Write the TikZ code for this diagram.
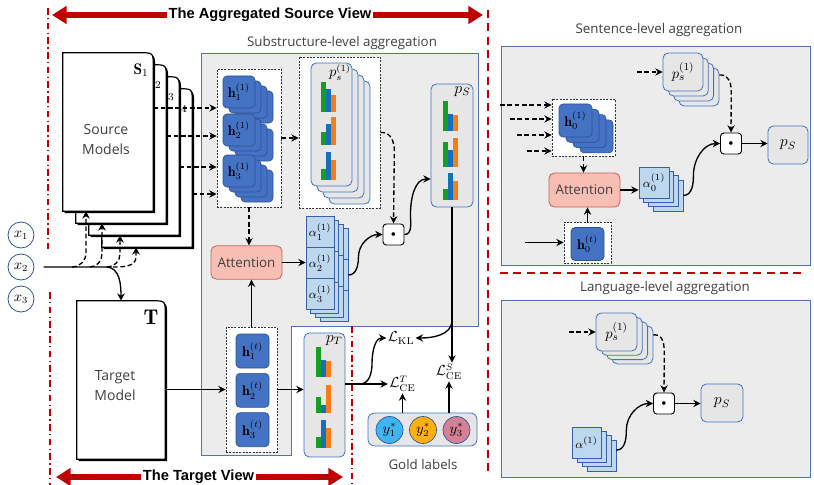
\documentclass[tikz,border=0pt]{standalone}
\usepackage{amsmath}
\usepackage{amssymb}
\usepackage{fontspec}
\setsansfont{Open Sans}
\newfontfamily\viewfont{Liberation Sans}
\usetikzlibrary{arrows.meta,positioning}

\definecolor{hblue}{RGB}{68,114,196}
\definecolor{hborder}{RGB}{47,82,143}
\definecolor{alight}{RGB}{189,215,238}
\definecolor{aborder}{RGB}{56,96,170}
\definecolor{panelgray}{RGB}{236,236,236}
\definecolor{panelline}{RGB}{80,115,180}
\definecolor{pgray}{RGB}{230,230,230}
\definecolor{attfill}{RGB}{248,190,180}
\definecolor{attline}{RGB}{196,98,88}
\definecolor{viewred}{RGB}{192,0,0}
\definecolor{bargreen}{RGB}{20,160,30}
\definecolor{barblue}{RGB}{20,112,190}
\definecolor{barorange}{RGB}{250,125,20}
\definecolor{ystarA}{RGB}{64,180,240}
\definecolor{ystarB}{RGB}{255,176,10}
\definecolor{ystarC}{RGB}{212,128,150}
\definecolor{labelgray}{RGB}{64,64,64}
\definecolor{xborder}{RGB}{47,85,151}

\newcommand{\dotmark}{{\fontsize{6}{6}\selectfont$\bullet$}}
% a stack: name, style, x, y, dx, dy, label
\newcommand{\stack}[7]{%
  \foreach \k in {3,2,1}
    \node[#2] (#1-\k) at ({#3+\k*#5},{#4+\k*#6}) {};
  \node[#2] (#1) at (#3,#4) {#7};
}
% three bars: x, bottom, green, blue, orange
\newcommand{\bars}[5]{%
  \fill[bargreen] (#1,#2) rectangle ++(5,-#3);
  \fill[barblue] ({#1+5},#2) rectangle ++(5,-#4);
  \fill[barorange] ({#1+10},#2) rectangle ++(5,-#5);
}
% model card drawn round an empty node
\newcommand{\card}[1]{%
  \fill[black, transform canvas={shift={(1.4pt,-1.4pt)}}]
    (#1.south west) -- (#1.north west) -- ([xshift=-10pt]#1.north east)
    .. controls (#1.north east) .. ([yshift=-10pt]#1.north east) -- (#1.south east) -- cycle;
  \filldraw[fill=white, draw=black, line width=0.9pt]
    (#1.south west) -- (#1.north west) -- ([xshift=-10pt]#1.north east)
    .. controls (#1.north east) .. ([yshift=-10pt]#1.north east) -- (#1.south east) -- cycle;
}

\begin{document}
\begin{tikzpicture}[
    x=0.75pt, y=-0.75pt,
    font=\fontsize{10.5}{12}\selectfont,
    >={Stealth[length=5.5pt,width=5.5pt,inset=1.8pt]},
    arr/.style={->, line width=1pt},
    darr/.style={->, line width=1pt, dash pattern=on 3.5pt off 2pt},
    sanslabel/.style={font=\sffamily\fontsize{10}{12}\selectfont, text=labelgray},
    panel/.style={draw=panelline, fill=panelgray, line width=0.7pt, inner sep=0pt},
    holder/.style={draw=black!80, fill=white, line width=0.5pt, dash pattern=on 1.5pt off 1pt, inner sep=0pt},
    hnode/.style={draw=hborder, fill=hblue, rounded corners=3pt, line width=0.5pt, minimum size=24pt, inner sep=0pt},
    pnode/.style={draw=hblue, fill=pgray, rounded corners=4pt, line width=0.6pt, inner sep=0pt, font=\fontsize{11}{13}\selectfont},
    acell/.style={draw=aborder, fill=alight, line width=0.5pt, minimum width=21pt, minimum height=23.25pt, inner sep=0pt, font=\fontsize{9.5}{11}\selectfont},
    attn/.style={draw=attline, fill=attfill, rounded corners=4pt, line width=0.6pt, minimum width=53.25pt, minimum height=25pt, font=\sffamily\fontsize{10}{12}\selectfont, text=labelgray},
    dotnode/.style={draw, fill=white, rounded corners=2.5pt, line width=0.7pt, minimum size=15.75pt, inner sep=0pt},
    cardbox/.style={inner sep=0pt, minimum width=67.5pt, minimum height=118.5pt},
    xin/.style={circle, draw=xborder, fill=white, line width=0.6pt, minimum size=19.5pt, inner sep=0pt},
    ystar/.style={circle, draw=xborder, line width=0.5pt, minimum size=20.25pt, inner sep=0pt},
    loss/.style={inner sep=1pt},
    viewsep/.style={viewred, line width=1.8pt, dash pattern=on 6pt off 4pt},
    viewedge/.style={viewred, line width=1.3pt, dash pattern=on 5pt off 2.5pt on 1pt off 2.5pt},
    viewarrow/.style={viewred, line width=4.5pt, -{Triangle[length=11pt,width=13pt]}},
    viewtitle/.style={font=\viewfont\bfseries\fontsize{11}{13}\selectfont, inner sep=1pt}]
    \useasboundingbox (0,0) rectangle (814,485);

    % PANELS
    \filldraw[panel] (201,53) -- (478,53) -- (478,326) -- (291,326) -- (291,455) -- (201,455) -- cycle;
    \node[sanslabel] (subtitle) at (342,43) {Substructure-level aggregation};
    \node[panel, minimum width=231.75pt, minimum height=164.25pt] (sentpanel) at (655.5,155.5) {};
    \node[sanslabel] (senttitle) at (659,30) {Sentence-level aggregation};
    \node[panel, minimum width=231.75pt, minimum height=132.75pt] (langpanel) at (655.5,388.5) {};
    \node[sanslabel] (langtitle) at (665,288) {Language-level aggregation};

    % VIEWS
    \draw[viewedge] (48,8) -- (48,252);
    \draw[viewedge] (50,292) -- (50,485);
    \draw[viewedge] (352,326) -- (352,485);
    \draw[viewsep] (488,10) -- (488,472);
    \draw[viewsep] (500,273) -- (806,273);
    \node[viewtitle] (srcview) at (270,15) {The Aggregated Source View};
    \coordinate (srcviewL) at (52,15);
    \coordinate (srcviewR) at (483,15);
    \draw[viewarrow] (srcview.west) -- (srcviewL);
    \draw[viewarrow] (srcview.east) -- (srcviewR);
    \node[viewtitle] (tgtview) at (198.5,477) {The Target View};
    \coordinate (tgtviewL) at (56,477);
    \coordinate (tgtviewR) at (343,477);
    \draw[viewarrow] (tgtview.west) -- (tgtviewL);
    \draw[viewarrow] (tgtview.east) -- (tgtviewR);

    % SOURCE AND TARGET MODELS
    \node[cardbox] (S4) at (147,168) {};
    \card{S4}
    \node[font=\fontsize{11.5}{13}\selectfont] (S4lab) at (180,106) {$\mathbf{S}_4$};
    \node[cardbox] (S3) at (134,156) {};
    \card{S3}
    \node[font=\fontsize{11.5}{13}\selectfont] (S3lab) at (167,94) {$\mathbf{S}_3$};
    \node[cardbox] (S2) at (121,144) {};
    \card{S2}
    \node[font=\fontsize{11.5}{13}\selectfont] (S2lab) at (154,82) {$\mathbf{S}_2$};
    \node[cardbox] (S1) at (108,132) {};
    \card{S1}
    \node[font=\fontsize{11.5}{13}\selectfont] (S1lab) at (141,70) {$\mathbf{S}_1$};
    \node[sanslabel, align=center, font=\sffamily\fontsize{10.5}{15}\selectfont] (srcname) at (106,139) {Source\\Models};

    \node[cardbox, minimum width=66pt] (T) at (121,380) {};
    \card{T}
    \node[font=\fontsize{16}{18}\selectfont] (Tlab) at (151,317) {$\mathbf{T}$};
    \node[sanslabel, align=center, font=\sffamily\fontsize{10.5}{15}\selectfont] (tgtname) at (115,386) {Target\\Model};

    % INPUTS
    \node[xin] (x1) at (21,235) {$x_1$};
    \node[xin, below of=x1, node distance=24pt] (x2) {$x_2$};
    \node[xin, below of=x2, node distance=24pt] (x3) {$x_3$};
    \coordinate (x2bend) at (106,267);
    \draw[arr] ([xshift=7pt]x2.east) -- (x2bend) to[out=0,in=90] (T.north);
    \coordinate (b1) at (72,267);  \coordinate (k1) at (86,253);
    \coordinate (b2) at (90,267);  \coordinate (k2) at (102,254);
    \coordinate (b3) at (107,267); \coordinate (k3) at (120,254);
    \coordinate (b4) at (113,267); \coordinate (k4) at (136,257);
    \draw[darr] (b1) to[out=0,in=-90] (k1) -- (k1 |- S1.south);
    \draw[darr] (b2) to[out=0,in=-90] (k2) -- (k2 |- S2.south);
    \draw[darr] (b3) to[out=0,in=-90] (k3) -- (k3 |- S3.south);
    \draw[darr] (b4) to[out=0,in=-90] (k4) -- (k4 |- S4.south);

    % SUBSTRUCTURE-LEVEL
    \node[holder, minimum width=48pt, minimum height=103.5pt] (hsrc) at (249,138) {};
    \stack{h1}{hnode}{239}{92}{6}{5}{$\mathbf{h}_1^{(1)}$}
    \stack{h2}{hnode}{239}{130}{6}{5}{$\mathbf{h}_2^{(1)}$}
    \stack{h3}{hnode}{239}{171}{6}{5}{$\mathbf{h}_3^{(1)}$}

    \node[holder, minimum width=60.75pt, minimum height=113.25pt] (psrc) at (339.5,132.5) {};
    \stack{ps}{pnode, minimum width=30.75pt, minimum height=92.25pt}{331.5}{124.5}{6}{6}{}
    \node[anchor=north east, inner sep=1pt] (pslab) at (ps.north east) {$p_s^{(1)}$};
    \bars{321}{112}{30}{23}{17}
    \bars{321}{145}{13}{21}{28}
    \bars{321}{180}{11}{28}{20}

    \node[pnode, minimum width=31.5pt, minimum height=92.25pt] (pS) at (452,145.5) {};
    \node[anchor=north east, inner sep=2pt, font=\fontsize{12}{14}\selectfont] (pSlab) at (pS.north east) {$p_S$};
    \bars{443}{131}{30}{17}{16}
    \bars{443}{167}{25}{17}{29}
    \bars{443}{200}{11}{27}{19}

    \node[attn] (att) at (246.5,262.5) {Attention};
    \foreach \k in {3,2,1}
      \foreach \r in {1,2,3}
        \node[acell] (a\r-\k) at ({320+4.7*\k},{232+31*(\r-1)+4*\k}) {};
    \foreach \r in {1,2,3}
      \node[acell] (a\r) at (320,{232+31*(\r-1)}) {$\alpha_{\r}^{(1)}$};
    \node[dotnode] (dot1) at (393.5,234.5) {\dotmark};

    \node[holder, minimum width=38.25pt, minimum height=93.75pt] (htgt) at (251.5,389.5) {};
    \node[hnode, minimum width=24.75pt, minimum height=25.5pt] (ht1) at (252.5,351) {$\mathbf{h}_1^{(t)}$};
    \node[hnode, minimum width=24.75pt, minimum height=25.5pt, below of=ht1, node distance=29.5pt] (ht2) {$\mathbf{h}_2^{(t)}$};
    \node[hnode, minimum width=24.75pt, minimum height=25.5pt, below of=ht2, node distance=29.5pt] (ht3) {$\mathbf{h}_3^{(t)}$};

    \node[pnode, minimum width=30.75pt, minimum height=93pt] (pT) at (324.5,395) {};
    \node[anchor=north east, inner sep=2pt, font=\fontsize{12}{14}\selectfont] (pTlab) at (pT.north east) {$p_T$};
    \bars{316}{377}{30}{17}{16}
    \bars{316}{413}{16}{8}{28}
    \bars{316}{448}{11}{28}{20}

    % LOSSES AND GOLD LABELS
    \node[loss] (LKL) at (401,338) {$\mathcal{L}_{\mathrm{KL}}$};
    \node[loss] (LCET) at (402.5,384) {$\mathcal{L}_{\mathrm{CE}}^{T}$};
    \node[loss] (LCES) at (449,372) {$\mathcal{L}_{\mathrm{CE}}^{S}$};
    \node[pnode, minimum width=81.75pt, minimum height=24.75pt, rounded corners=5pt] (gold) at (422.5,429.5) {};
    \node[ystar, fill=ystarA] (y1) at (389.5,430) {$y_1^*$};
    \node[ystar, fill=ystarB] (y2) at (423,430) {$y_2^*$};
    \node[ystar, fill=ystarC] (y3) at (456.5,430) {$y_3^*$};
    \node[sanslabel] (goldname) at (423,464) {Gold labels};

    % SENTENCE-LEVEL
    \node[holder, minimum width=47.25pt, minimum height=42.75pt] (h0hold) at (583.5,127.5) {};
    \stack{h0}{hnode, minimum size=24.75pt}{575.5}{120.5}{7}{5.3}{$\mathbf{h}_0^{(1)}$}
    \stack{ps2}{pnode, minimum width=30pt, minimum height=28.5pt}{683}{72}{5.3}{5}{$p_s^{(1)}$}
    \node[attn, minimum height=25.5pt] (att2) at (584.5,190) {Attention};
    \stack{al0}{acell, minimum width=22.5pt}{654}{182.5}{4.7}{4.3}{$\alpha_0^{(1)}$}
    \node[dotnode] (dot2) at (731,143.5) {\dotmark};
    \node[pnode, minimum width=30pt, minimum height=28.5pt, font=\fontsize{12}{14}\selectfont] (pS2) at (788,145) {$p_S$};
    \node[holder, minimum width=35.25pt, minimum height=30.75pt] (h0thold) at (587.5,242.5) {};
    \node[hnode, minimum size=24.75pt] (h0t) at (587.5,244) {$\mathbf{h}_0^{(t)}$};

    % LANGUAGE-LEVEL
    \stack{ps3}{pnode, minimum width=30.75pt, minimum height=28.5pt}{616.5}{332}{5.3}{4.3}{$p_s^{(1)}$}
    \node[dotnode] (dot3) at (664,403.5) {\dotmark};
    \node[pnode, minimum width=31.5pt, minimum height=28.5pt, font=\fontsize{12}{14}\selectfont] (pS3) at (722,403) {$p_S$};
    \stack{al1}{acell, minimum width=21.75pt}{586.5}{442.5}{5}{4.3}{$\alpha^{(1)}$}

    % ARROWS
    \foreach \y [count=\i] in {108,136,167,194}
      \coordinate (in\i) at (0,\y);
    \draw[darr] (S1.east |- in1) -- (hsrc.west |- in1);
    \draw[darr] (S2.east |- in2) -- (hsrc.west |- in2);
    \draw[darr] (S3.east |- in3) -- (hsrc.west |- in3);
    \draw[darr] (S4.east |- in4) -- (hsrc.west |- in4);
    \draw[darr] (hsrc.east) -- (hsrc.east -| psrc.west);
    \draw[darr] (hsrc.south) -- (hsrc.south |- att.north);
    \draw[arr] (att.east) -- (att.east -| a2.west);
    \draw[darr] (psrc.east) -- ++(2,0) to[out=0,in=90] ++(12,18) -- (dot1.north);
    \draw[arr] (a2-3.east) to[out=0,in=-90] ++(10,-18) to[out=90,in=180] (dot1.west);
    \coordinate (pSin) at (0,179);
    \draw[arr] (dot1.east) to[out=0,in=-90] ++(6,-20) to[out=90,in=180] (pS.west |- pSin);
    \draw[arr] (pS.south) -- (pS.south |- LCES.north);
    \coordinate (klsplit) at (0,320);
    \draw[arr] (pS.south |- klsplit) to[out=-90,in=0] (LKL.east);

    \draw[arr] (htgt.west -| T.east) -- (htgt.west);
    \draw[arr] (htgt.north) -- (htgt.north |- att.south);
    \draw[arr] (htgt.east) -- (htgt.east -| pT.west);
    \draw[arr] (LCET.west -| pT.east) -- (LCET.west);
    \coordinate (klbend) at (360,0);
    \draw[arr] (klbend |- LCET.west) to[out=0,in=-90] ++(12,-20) to[out=90,in=180] (LKL.west);
    \draw[arr] (gold.north -| LCET.south) -- (LCET.south);
    \draw[arr] (gold.north -| LCES.south) -- (LCES.south);

    \coordinate (ps2in) at (637,0);
    \draw[darr] (ps2in |- ps2.west) -- (ps2.west);
    \foreach \x/\y [count=\i] in {500/105,510/119,517/135,527/151} {
      \coordinate (s\i) at (\x,\y);
      \draw[darr] (s\i) -- (s\i -| h0hold.west);
    }
    \draw[darr] (h0hold.south) -- (h0hold.south |- att2.north);
    \draw[arr] (att2.east) -- (att2.east -| al0.west);
    \draw[arr] (al0-3.east) to[out=0,in=-90] ++(10,-20) to[out=90,in=180] (dot2.west);
    \draw[darr] ([yshift=9pt]ps2-3.east) -- ++(2,0) to[out=0,in=90] ++(10,16) -- (dot2.north);
    \draw[arr] (dot2.east) -- (dot2.east -| pS2.west);
    \coordinate (h0tin) at (525,0);
    \draw[arr] (h0tin |- h0thold.west) -- (h0thold.west);
    \draw[arr] (h0thold.north) -- (h0thold.north |- att2.south);

    \coordinate (ps3in) at (569,0);
    \draw[darr] (ps3in |- ps3.west) -- (ps3.west);
    \draw[darr] ([yshift=7.5pt]ps3-3.east) -- ++(2,0) to[out=0,in=90] ++(9,18) -- (dot3.north);
    \draw[arr] (dot3.east) -- (dot3.east -| pS3.west);
    \draw[arr] ([yshift=4pt]al1-3.east) to[out=0,in=-90] ++(10,-20) to[out=90,in=180] (dot3.west);
\end{tikzpicture}
\end{document}
